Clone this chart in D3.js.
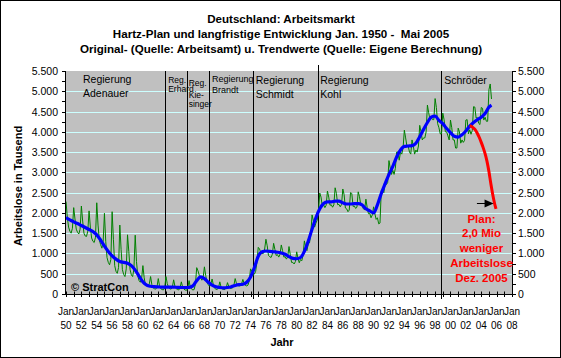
<!DOCTYPE html>
<html><head><meta charset="utf-8">
<script src="https://cdn.jsdelivr.net/npm/d3@7"></script>
<style>
body{margin:0;background:#fff}
svg{display:block}
text{font-family:Arial,"Liberation Sans",sans-serif;white-space:pre}
</style>
</head><body>
<svg id="chart" width="561" height="358"></svg>
<script>
// ---------------- DATA ----------------
const titleLines = [
  "Deutschland: Arbeitsmarkt",
  "Hartz-Plan und langfristige Entwicklung Jan. 1950 -  Mai 2005",
  "Original- (Quelle: Arbeitsamt) u. Trendwerte (Quelle: Eigene Berechnung)"
];
const yAxisTitle = "Arbeitslose in Tausend";
const xAxisTitle = "Jahr";
const yTickValues = [0,500,1000,1500,2000,2500,3000,3500,4000,4500,5000,5500];
const xLabelYears = [1950,1952,1954,1956,1958,1960,1962,1964,1966,1968,1970,1972,1974,1976,1978,1980,1982,1984,1986,1988,1990,1992,1994,1996,1998,2000,2002,2004,2006,2008];

// Original (green) values, thousands; six readings per year: Jan, Mar, May, Jul, Sep, Nov
const orig1950s = [
  2280,1900,1650,1550,1500,1620, 2130,1850,1600,1520,1480,1600,
  2170,1800,1500,1430,1420,1550, 2050,1650,1380,1300,1270,1400,
  2250,1700,1330,1220,1130,1300, 1990,1300,900,780,720,850,
  2030,1350,700,560,510,650,     1700,1100,600,480,430,620,
  1460,1050,600,470,430,620,     1450,800,450,330,290,380
];
const orig1960s = [
  700,400,230,200,190,250,  430,230,150,130,120,170,
  380,200,130,110,100,150,  430,260,160,130,120,170,
  350,190,130,110,100,150,  300,170,120,100,90,140,
  330,170,120,100,110,250,  650,570,460,400,340,400,
  670,460,290,230,190,250,  370,220,140,120,110,150
];
const orig1970s = [
  300,170,120,110,110,150,      280,190,140,140,150,220,
  380,260,210,200,200,250,      360,260,210,200,220,330,
  620,560,460,490,560,800,      1150,1110,1020,1000,1000,1110,
  1350,1190,950,920,900,980,    1250,1100,950,970,910,980,
  1210,1070,910,920,860,920,    1170,970,780,780,740,800
];
const orig1980s = [
  1040,880,770,850,820,970,       1310,1160,1070,1240,1260,1490,
  1950,1810,1650,1750,1820,2040,  2490,2390,2160,2200,2130,2190,
  2540,2390,2190,2200,2140,2200,  2620,2480,2200,2210,2150,2210,
  2590,2450,2120,2100,2030,2070,  2500,2480,2160,2170,2110,2140,
  2520,2400,2200,2200,2100,2080,  2340,2130,1980,1990,1880,1950
];
const orig1990s = [
  2150,1980,1840,1880,1730,1750,  2550,2550,2500,2750,2700,2750,
  3290,3100,2950,3050,2950,3100,  3500,3500,3300,3500,3450,3600,
  4040,3850,3650,3650,3500,3450,  3800,3650,3450,3550,3500,3650,
  4160,4000,3800,3850,3850,4000,  4660,4470,4300,4350,4300,4300,
  4820,4600,4200,4100,3950,3950,  4460,4300,4000,4000,3900,3800
];
const orig2000s = [
  4290,4100,3800,3800,3600,3600,  4090,4000,3720,3800,3740,3790,
  4290,4300,3950,4050,3940,4030,  4620,4610,4340,4350,4210,4180,
  4600,4580,4290,4360,4260,4260,  5040,5180,4810
];

// Trend (blue), thousands; two readings per year: Jan, Jul (1950 .. Jan 2005), then May 2005
const trendValues = [
  1880,1830, 1780,1740, 1690,1640, 1590,1540, 1460,1330, 1180,1050, 940,860, 800,780, 760,700, 590,440,
  300,220, 190,180, 175,170, 170,170, 170,165, 160,160, 165,200, 330,420, 380,290, 220,180,
  160,150, 160,180, 210,230, 240,290, 420,650, 930,1040, 1060,1050, 1040,1030, 1010,980, 920,880,
  870,900, 1050,1300, 1600,1880, 2100,2230, 2270,2270, 2290,2290, 2250,2220, 2220,2230, 2230,2200, 2100,2050,
  2000,2200, 2480,2720, 2950,3150, 3380,3550, 3640,3650, 3660,3720, 3880,4060, 4230,4360, 4390,4280, 4200,4080,
  3980,3890, 3870,3930, 4020,4140, 4230,4300, 4360,4450, 4610
];
const trendLastDate = 2005.33, trendLastValue = 4660;

// Hartz plan (red)
const planDates  = [2002.5,2002.75,2003.0,2003.25,2003.5,2003.75,2004.0,2004.25,2004.5,2004.75,2005.0,2005.25,2005.5,2005.75,2005.92];
const planValues = [4150,4130,4090,4040,3960,3860,3740,3610,3460,3270,3020,2720,2450,2220,2100];

// Government changes (as drawn)
const govYears  = [1962.9, 1965.7, 1968.6, 1974.35, 1982.8, 1998.8];
const govLabels = [
  {lines:["Regierung","Adenauer"], at:1950, dx:17, size:10.5, base:[83,97]},
  {lines:["Reg.","Erhard"],        at:1962.9, dx:3,  size:8.5,  base:[83,92]},
  {lines:["Reg.","Kie-","singer"], at:1965.7, dx:2,  size:8.5,  base:[86,97.5],
   extra:{text:"singer", base:107}},
  {lines:["Regierung","Brandt"],   at:1968.6, dx:3,  size:9,  base:[82,92.5]},
  {lines:["Regierung","Schmidt"],  at:1974.35,dx:2.5,size:10.5, base:[84,98]},
  {lines:["Regierung","Kohl"],     at:1982.8, dx:2,  size:10.5, base:[83.5,97.5]},
  {lines:["Schröder"],             at:1998.8, dx:3,  size:10.5, base:[83.5]}
];
const planText = ["Plan:","2,0 Mio","weniger","Arbeitslose","Dez. 2005"];
const copyright = "© StratCon";

// ---------------- CHART ----------------
const svg = d3.select("#chart");
const P = {l:66, r:512, t:71, b:294};
const x = d3.scaleLinear().domain([1950,2008]).range([P.l,P.r]);
const y = d3.scaleLinear().domain([0,5500]).range([P.b,P.t]);
const de = d3.formatLocale({decimal:",",thousands:".",grouping:[3],currency:["","€"]});
const fmt = de.format(",");
const cx = v => Math.round(x(v)) + 0.5;
const cy = v => Math.round(y(v)) + 0.5;

// outer border
svg.append("rect").attr("x",0.5).attr("y",0.5).attr("width",560).attr("height",357)
  .attr("fill","#fff").attr("stroke","#000");

// titles
svg.selectAll("text.title").data(titleLines).join("text")
  .attr("x",281).attr("y",(d,i)=>[23,38,53][i])
  .attr("text-anchor","middle").attr("font-size","11.6px").attr("font-weight","bold")
  .text(d=>d);

// plot bg
svg.append("rect").attr("x",P.l).attr("y",P.t).attr("width",P.r-P.l).attr("height",P.b-P.t).attr("fill","#c0c0c0");

// gridlines
svg.append("g").selectAll("line").data(yTickValues.filter(v=>v>0 && v<5500)).join("line")
  .attr("x1",P.l).attr("x2",P.r).attr("y1",d=>cy(d)).attr("y2",d=>cy(d))
  .attr("stroke","#ccffff").attr("stroke-width",1);

// government lines
const gl = svg.append("g").attr("stroke","#000").attr("stroke-width",1);
govYears.forEach((g,i)=>{
  let top = P.t, bot = P.b;
  if (i===4) top = P.t - 6;
  if (i===3 || i===5) bot = P.b + 5;
  gl.append("line").attr("x1",cx(g)).attr("x2",cx(g)).attr("y1",top).attr("y2",bot);
});

// series
const origAll = [].concat(orig1950s,orig1960s,orig1970s,orig1980s,orig1990s,orig2000s);
const origPts = origAll.map((v,i)=>[1950 + i/6, v]);
const trendPts = trendValues.map((v,i)=>[1950 + i*0.5, v]).concat([[trendLastDate,trendLastValue]]);
const planPts = planDates.map((d,i)=>[d, planValues[i]]);

const line = d3.line().x(d=>x(d[0])).y(d=>y(d[1]));
svg.append("path").datum(origPts).attr("d",line).attr("fill","none").attr("stroke","#008000").attr("stroke-width",1);
svg.append("path").datum(trendPts).attr("d",d3.line().x(d=>x(d[0])).y(d=>y(d[1])).curve(d3.curveMonotoneX)).attr("fill","none").attr("stroke","#0000ff").attr("stroke-width",3.2);
svg.append("path").datum(planPts).attr("d",d3.line().x(d=>x(d[0])).y(d=>y(d[1])).curve(d3.curveMonotoneX)).attr("fill","none").attr("stroke","#ff0000").attr("stroke-width",3);

// axes lines
svg.append("line").attr("x1",P.l-0.5).attr("x2",P.l-0.5).attr("y1",P.t).attr("y2",P.b+1).attr("stroke","#000");
svg.append("line").attr("x1",P.r+0.5).attr("x2",P.r+0.5).attr("y1",P.t).attr("y2",P.b+1).attr("stroke","#000");
svg.append("line").attr("x1",P.l-1).attr("x2",P.r+1).attr("y1",P.b+0.5).attr("y2",P.b+0.5).attr("stroke","#000");

// y axes ticks
const minor = d3.range(0,5501,250);
const ga = svg.append("g").attr("stroke","#000");
minor.forEach(v=>{
  ga.append("line").attr("x1",P.l-4).attr("x2",P.l).attr("y1",cy(v)).attr("y2",cy(v));
  ga.append("line").attr("x1",P.r).attr("x2",P.r+4).attr("y1",cy(v)).attr("y2",cy(v));
});
svg.append("g").selectAll("text").data(yTickValues).join("text")
  .attr("x",58).attr("y",d=>y(d)+4).attr("text-anchor","end").attr("font-size","10.5px").text(d=>fmt(d));
svg.append("g").selectAll("text").data(yTickValues).join("text")
  .attr("x",518).attr("y",d=>y(d)+4).attr("text-anchor","start").attr("font-size","10.5px").text(d=>fmt(d));

// x ticks
const xt = svg.append("g").attr("stroke","#000");
d3.range(1950,2009,1).forEach(yr=>{
  xt.append("line").attr("x1",cx(yr)).attr("x2",cx(yr)).attr("y1",P.b-2.5).attr("y2",P.b+3);
});
const xl = svg.append("g").attr("font-size","10px").attr("text-anchor","middle");
xLabelYears.forEach(yr=>{
  xl.append("text").attr("x",x(yr)).attr("y",315).text("Jan");
  xl.append("text").attr("x",x(yr)).attr("y",328.5).text(String(yr%100).padStart(2,"0"));
});

// axis titles
svg.append("text").attr("x",282).attr("y",346).attr("text-anchor","middle")
  .attr("font-size","11px").attr("font-weight","bold").text(xAxisTitle);
svg.append("text").attr("transform","translate(22,186) rotate(-90)").attr("text-anchor","middle")
  .attr("font-size","11px").attr("font-weight","bold").text(yAxisTitle);

// government labels
govLabels.forEach(g=>{
  const n = g.extra ? 2 : g.lines.length;
  for (let i=0;i<n;i++){
    svg.append("text").attr("x",x(g.at)+g.dx).attr("y",g.base[i])
      .attr("font-size",g.size+"px").text(g.lines[i]);
  }
  if (g.extra){
    svg.append("text").attr("x",x(g.at)+g.dx).attr("y",g.extra.base)
      .attr("font-size",g.size+"px").text(g.extra.text);
  }
});

// copyright
svg.append("text").attr("x",71).attr("y",291).attr("font-size","11px").attr("font-weight","bold").text(copyright);

// arrow
const ay = Math.round(y(2250))+0.5, ax1 = x(2003.44), ax2 = x(2005.6);
svg.append("line").attr("x1",ax1).attr("x2",ax2-6).attr("y1",ay).attr("y2",ay).attr("stroke","#000");
svg.append("path").attr("d",`M${ax2},${ay} L${ax2-9},${ay-4} L${ax2-9},${ay+4} Z`).attr("fill","#000");

// plan text
const pb = [222.5,237,252,266.8,281.6];
svg.append("g").selectAll("text").data(planText).join("text")
  .attr("x",481.5).attr("y",(d,i)=>pb[i]).attr("text-anchor","middle")
  .attr("font-size","11.5px").attr("font-weight","bold").attr("fill","#ff0000").text(d=>d);
</script>
</body></html>
